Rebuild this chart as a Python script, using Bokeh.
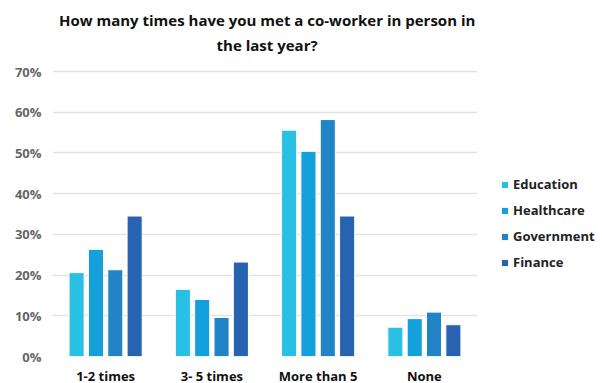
from bokeh.plotting import figure
from bokeh.models import ColumnDataSource, FactorRange, Legend, LegendItem, Label, NumeralTickFormatter, FixedTicker
from bokeh.transform import dodge
from bokeh.embed import file_html
from bokeh.resources import INLINE

categories = ["1-2 times", "3- 5 times", "More than 5", "None"]
series = ["Education", "Healthcare", "Government", "Finance"]
education = [0.206, 0.165, 0.556, 0.072]
healthcare = [0.263, 0.140, 0.504, 0.093]
government = [0.213, 0.096, 0.582, 0.109]
finance = [0.345, 0.232, 0.345, 0.078]
colors = ["#29C0E3", "#14A1DB", "#2284C6", "#2763B0"]
y_ticks = [0, 0.1, 0.2, 0.3, 0.4, 0.5, 0.6, 0.7]
title_lines = ["How many times have you met a co-worker in person in", "the last year?"]

src = ColumnDataSource(dict(cat=categories, Education=education, Healthcare=healthcare,
                            Government=government, Finance=finance))

FONT = "Open Sans"
# frame extends above 70% to host the title; 285 px correspond to 0..0.7
FRAME_H = 351
y_top = 0.7 * FRAME_H / 285
p = figure(x_range=FactorRange(*categories, range_padding=0), y_range=(0, y_top),
           frame_width=425, frame_height=FRAME_H, output_backend="svg", toolbar_location=None,
           min_border_left=52, min_border_top=5, min_border_bottom=0, min_border_right=0)

for txt, yy in zip(title_lines, [0.8253, 0.7639]):
    p.add_layout(Label(x=2.02, y=yy, text=txt, text_align="center", text_baseline="middle",
                       text_font=FONT, text_font_size="15px", text_font_style="bold",
                       text_color="#111111"))

step = 0.182
width = 0.142
offsets = [-1.5 * step, -0.5 * step, 0.5 * step, 1.5 * step]
renderers = []
for s, off, c in zip(series, offsets, colors):
    r = p.vbar(x=dodge("cat", off, range=p.x_range), top=s, width=width, source=src,
               fill_color=c, line_color="white", line_width=1)
    renderers.append(r)

legend = Legend(items=[LegendItem(label=s, renderers=[r]) for s, r in zip(series, renderers)],
                location=(23, 84), label_text_font=FONT, label_text_font_style="bold",
                label_text_font_size="13px", label_text_color="#222222",
                glyph_width=9, glyph_height=9, label_height=20, spacing=6,
                border_line_color=None, background_fill_alpha=0, padding=2, margin=0,
                label_standoff=4)
p.add_layout(legend, "right")

p.yaxis.ticker = FixedTicker(ticks=y_ticks)
p.yaxis.formatter = NumeralTickFormatter(format="0%")
p.yaxis.axis_line_color = None
p.yaxis.major_tick_line_color = None
p.yaxis.minor_tick_line_color = None
p.yaxis.major_tick_out = 0
p.yaxis.major_tick_in = 0
p.yaxis.major_label_text_font = FONT
p.yaxis.major_label_text_font_style = "bold"
p.yaxis.major_label_text_font_size = "13px"
p.yaxis.major_label_text_color = "#666666"
p.yaxis.major_label_standoff = 11

p.xaxis.axis_line_color = None
p.xaxis.major_tick_line_color = None
p.xaxis.minor_tick_line_color = None
p.xaxis.major_tick_out = 0
p.xaxis.major_tick_in = 0
p.xaxis.major_label_text_font = FONT
p.xaxis.major_label_text_font_style = "bold"
p.xaxis.major_label_text_font_size = "13px"
p.xaxis.major_label_text_color = "#111111"
p.xaxis.major_label_standoff = 10

p.xgrid.grid_line_color = None
p.ygrid.grid_line_color = "#E3E3E3"
p.ygrid.grid_line_width = 1.5
p.outline_line_color = None

open("out.html", "w").write(file_html(p, INLINE))
